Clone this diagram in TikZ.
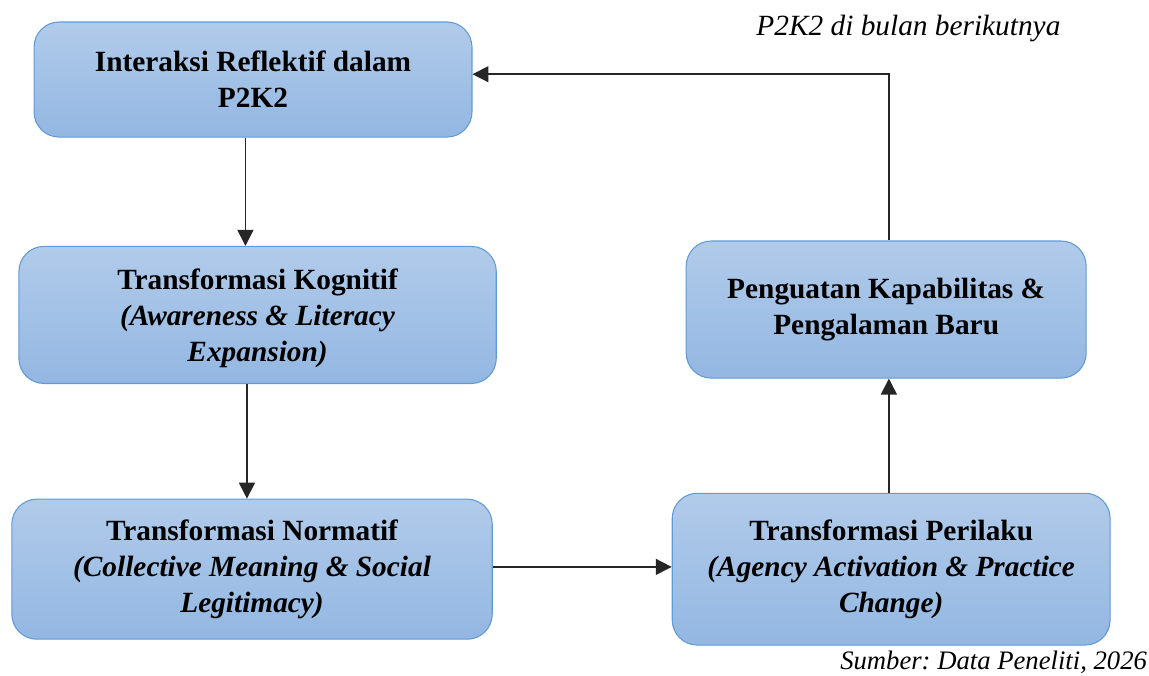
\documentclass[tikz,border=0pt]{standalone}
\usepackage{fontspec}
\setmainfont{Liberation Serif}
\frenchspacing
\usetikzlibrary{arrows.meta, positioning}
\definecolor{boxtop}{RGB}{177,203,234}
\definecolor{boxbot}{RGB}{147,183,226}
\definecolor{boxline}{RGB}{98,154,214}

\begin{document}
\begin{tikzpicture}
\tikzset{
  box/.style={draw=boxline, line width=0.4pt, rounded corners=0.33cm,
    top color=boxtop, bottom color=boxbot, align=center,
    font=\fontsize{11}{13.6}\selectfont\bfseries, inner sep=0pt},
  link/.style={draw=black!85, line width=0.6pt, -{Triangle[length=0.21cm,width=0.21cm]}}
}
\useasboundingbox (0,0) rectangle (15.14,-8.895);

\node[box, minimum width=5.77cm, minimum height=1.516cm] (int) at (3.334,-1.048)
  {Interaksi Reflektif dalam\\P2K2};
\node[box, minimum width=6.29cm, minimum height=1.806cm, text depth=-0.08cm] (kog) at (3.394,-4.15)
  {Transformasi Kognitif\\\textit{(Awareness \& Literacy}\\\textit{Expansion)}};
\node[box, minimum width=6.33cm, minimum height=1.845cm] (nor) at (3.321,-7.50)
  {Transformasi Normatif\\\textit{(Collective Meaning \& Social}\\\textit{Legitimacy)}};
\node[box, minimum width=5.77cm, minimum height=2.0cm] (per) at (11.743,-7.50)
  {Transformasi Perilaku\\\textit{(Agency Activation \& Practice}\\\textit{Change)}};
\node[box, minimum width=5.27cm, minimum height=1.806cm] (pen) at (11.677,-4.079)
  {Penguatan Kapabilitas \&\\Pengalaman Baru};

\draw[link] ([xshift=-0.1cm]int.south) -- ([xshift=-0.1cm]int.south |- kog.north);
\draw[link] ([xshift=-0.14cm]kog.south) -- ([xshift=-0.14cm]kog.south |- nor.north);
\draw[link] ([yshift=0.03cm]nor.east) -- ([yshift=0.03cm]nor.east -| per.west);
\draw[link] ([xshift=-0.03cm]per.north) -- ([xshift=-0.03cm]per.north |- pen.south);
\draw[link] ([xshift=0.04cm]pen.north) |- ([yshift=0.07cm]int.east);

\node[font=\fontsize{11}{13.6}\selectfont\itshape] (ket) at (11.97,-0.38)
  {P2K2 di bulan berikutnya};
\node[font=\fontsize{10}{12}\selectfont\itshape, anchor=east, inner sep=0pt] (src) at (15.12,-8.73)
  {Sumber: Data Peneliti, 2026};
\end{tikzpicture}
\end{document}
